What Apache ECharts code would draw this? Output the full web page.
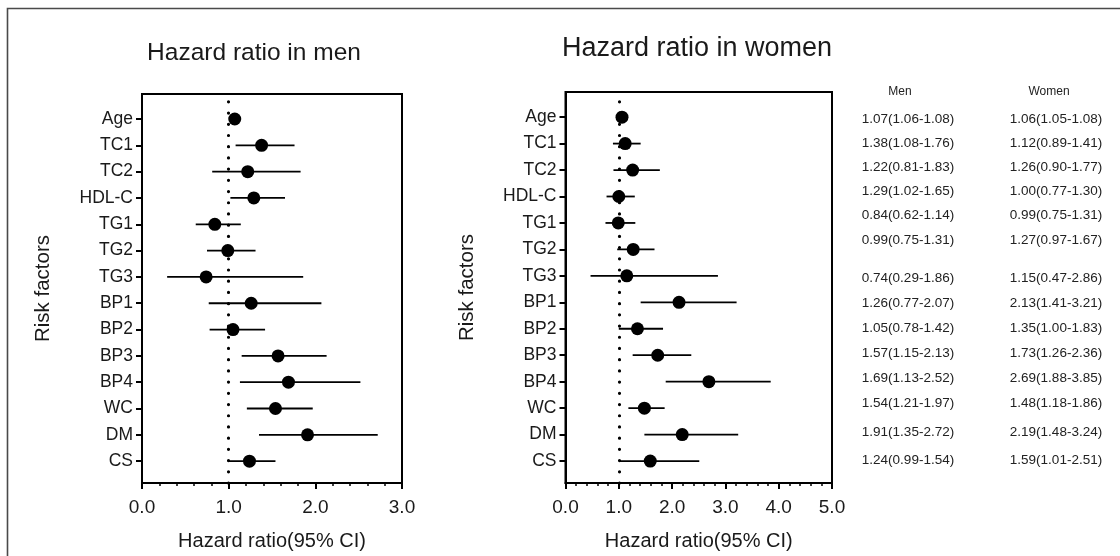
<!DOCTYPE html>
<html><head><meta charset="utf-8">
<script src="https://cdn.jsdelivr.net/npm/echarts@6/dist/echarts.min.js"></script>
<style>html,body{margin:0;padding:0;background:#fff}#c{width:1120px;height:556px}</style>
</head><body><div id="c"></div>
<script>
// ---- data ----
const categories = ['Age','TC1','TC2','HDL-C','TG1','TG2','TG3','BP1','BP2','BP3','BP4','WC','DM','CS'];
const menHR   = [1.07,1.38,1.22,1.29,0.84,0.99,0.74,1.26,1.05,1.57,1.69,1.54,1.91,1.24];
const menLow  = [1.06,1.08,0.81,1.02,0.62,0.75,0.29,0.77,0.78,1.15,1.13,1.21,1.35,0.99];
const menHigh = [1.08,1.76,1.83,1.65,1.14,1.31,1.86,2.07,1.42,2.13,2.52,1.97,2.72,1.54];
const womenHR   = [1.06,1.12,1.26,1.00,0.99,1.27,1.15,2.13,1.35,1.73,2.69,1.48,2.19,1.59];
const womenLow  = [1.05,0.89,0.90,0.77,0.75,0.97,0.47,1.41,1.00,1.26,1.88,1.18,1.48,1.01];
const womenHigh = [1.08,1.41,1.77,1.30,1.31,1.67,2.86,3.21,1.83,2.36,3.85,1.86,3.24,2.51];
const menXMax = 3;
const womenXMax = 5;
const refValue = 1;
const titles = ['Hazard ratio in men', 'Hazard ratio in women'];
const xName = 'Hazard ratio(95% CI)';
const yName = 'Risk factors';
const tableHeaders = ['Men', 'Women'];

// ---- layout ----
const FONT = '"Liberation Sans", Arial, sans-serif';
const n = categories.length;
const yPos = categories.map((c, i) => n - i);
const tableRowY = [119, 143, 167.5, 191.5, 215.5, 240, 278, 303, 328, 353, 378, 403.5, 432, 460];

function fmt(h, l, u) { return h.toFixed(2) + '(' + l.toFixed(2) + '-' + u.toFixed(2) + ')'; }

function renderCI(params, api) {
  const y = api.value(2);
  const p1 = api.coord([api.value(0), y]);
  const p2 = api.coord([api.value(1), y]);
  return { type: 'line', shape: { x1: p1[0], y1: p1[1], x2: p2[0], y2: p2[1] },
           style: { stroke: '#000', lineWidth: 1.8 } };
}

function xAxisOpt(gi, max) {
  return {
    type: 'value', gridIndex: gi, min: 0, max: max, interval: 1,
    axisLine: { show: true, lineStyle: { color: '#000', width: 2 } },
    axisTick: { show: true, length: 6, lineStyle: { color: '#000', width: 2 } },
    minorTick: { show: true, splitNumber: 5, length: 3, lineStyle: { color: '#000', width: 1.5 } },
    splitLine: { show: false }, minorSplitLine: { show: false },
    axisLabel: { formatter: v => v.toFixed(1), fontSize: 19, color: '#1a1a1a', margin: 15, fontFamily: FONT },
    name: xName, nameLocation: 'middle', nameGap: 48,
    nameTextStyle: { fontSize: 20, color: '#1a1a1a', fontFamily: FONT }
  };
}
function yAxisOpt(gi) {
  return {
    type: 'value', gridIndex: gi, min: 0.17, max: 14.95,
    axisLine: { show: true, lineStyle: { color: '#000', width: 2 } },
    axisTick: { show: true, customValues: yPos, length: 6, lineStyle: { color: '#000', width: 2 } },
    axisLabel: { customValues: yPos, formatter: v => categories[n - Math.round(v)], fontSize: 17.5,
                 color: '#1a1a1a', margin: 9, fontFamily: FONT },
    splitLine: { show: false },
    name: yName, nameLocation: 'middle', nameGap: 88, nameRotate: 90,
    nameTextStyle: { fontSize: 20.5, color: '#1a1a1a', fontFamily: FONT }
  };
}
function seriesFor(gi, hr, lo, hi) {
  return [
    { type: 'custom', xAxisIndex: gi, yAxisIndex: gi, renderItem: renderCI,
      encode: { x: [0, 1], y: 2 }, silent: true,
      data: hr.map((h, i) => [lo[i], hi[i], yPos[i]]), z: 2 },
    { type: 'scatter', xAxisIndex: gi, yAxisIndex: gi, symbol: 'circle', symbolSize: 13,
      itemStyle: { color: '#000', opacity: 1 }, silent: true, z: 3,
      data: hr.map((h, i) => [h, yPos[i]]),
      markLine: { silent: true, symbol: ['none', 'none'], label: { show: false },
        lineStyle: { color: '#000', width: 3.2, type: [0.01, 11.2], cap: 'round' },
        data: [{ xAxis: refValue }] } }
  ];
}

const graphics = [
  { type: 'rect', shape: { x: 7.5, y: 8.5, width: 1300, height: 700 }, silent: true,
    style: { fill: 'none', stroke: '#4a4a4a', lineWidth: 1.6 } },
  { type: 'text', x: 254, y: 53, silent: true,
    style: { text: titles[0], font: '24.5px ' + FONT, fill: '#1a1a1a', textAlign: 'center', textVerticalAlign: 'middle' } },
  { type: 'text', x: 697, y: 49, silent: true,
    style: { text: titles[1], font: '27px ' + FONT, fill: '#1a1a1a', textAlign: 'center', textVerticalAlign: 'middle' } },
  { type: 'text', x: 900, y: 92, silent: true,
    style: { text: tableHeaders[0], font: '12px ' + FONT, fill: '#222', textAlign: 'center', textVerticalAlign: 'middle' } },
  { type: 'text', x: 1049, y: 92, silent: true,
    style: { text: tableHeaders[1], font: '12px ' + FONT, fill: '#222', textAlign: 'center', textVerticalAlign: 'middle' } }
];
categories.forEach((c, i) => {
  graphics.push({ type: 'text', x: 908, y: tableRowY[i], silent: true,
    style: { text: fmt(menHR[i], menLow[i], menHigh[i]), font: '13.5px ' + FONT, fill: '#222',
             textAlign: 'center', textVerticalAlign: 'middle' } });
  graphics.push({ type: 'text', x: 1056, y: tableRowY[i], silent: true,
    style: { text: fmt(womenHR[i], womenLow[i], womenHigh[i]), font: '13.5px ' + FONT, fill: '#222',
             textAlign: 'center', textVerticalAlign: 'middle' } });
});

const chart = echarts.init(document.getElementById('c'), null, { renderer: 'canvas' });
chart.setOption({
  animation: false,
  backgroundColor: '#fff',
  textStyle: { fontFamily: FONT },
  grid: [
    { left: 142, right: 1120 - 402, top: 94, bottom: 556 - 485, show: true, borderColor: '#000', borderWidth: 2, backgroundColor: 'transparent' },
    { left: 565.5, right: 1120 - 832, top: 92, bottom: 556 - 485, show: true, borderColor: '#000', borderWidth: 2, backgroundColor: 'transparent' }
  ],
  xAxis: [xAxisOpt(0, menXMax), xAxisOpt(1, womenXMax)],
  yAxis: [yAxisOpt(0), yAxisOpt(1)],
  series: [...seriesFor(0, menHR, menLow, menHigh), ...seriesFor(1, womenHR, womenLow, womenHigh)],
  graphic: graphics
});
</script>
</body></html>
